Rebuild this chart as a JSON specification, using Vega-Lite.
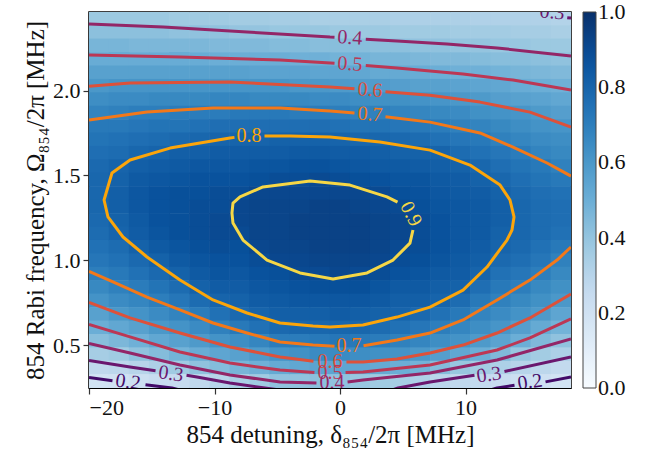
{
"$schema":"https://vega.github.io/schema/vega-lite/v6.json",
"autosize":{"type":"none"},
"width":482,"height":376,
"padding":{"left":89,"top":12,"right":99,"bottom":67},
"background":"white",
"datasets":{
"cells":[
{"x":-19.2,"y":2.423,"v":0.38},{"x":-19.2,"y":2.344,"v":0.42},{"x":-19.2,"y":2.265,"v":0.47},{"x":-19.2,"y":2.185,"v":0.51},{"x":-19.2,"y":2.106,"v":0.56},{"x":-19.2,"y":2.027,"v":0.60},{"x":-19.2,"y":1.948,"v":0.64},{"x":-19.2,"y":1.869,"v":0.68},{"x":-19.2,"y":1.790,"v":0.72},{"x":-19.2,"y":1.711,"v":0.74},{"x":-19.2,"y":1.632,"v":0.76},{"x":-19.2,"y":1.553,"v":0.78},{"x":-19.2,"y":1.474,"v":0.79},{"x":-19.2,"y":1.394,"v":0.79},{"x":-19.2,"y":1.315,"v":0.79},{"x":-19.2,"y":1.236,"v":0.78},{"x":-19.2,"y":1.157,"v":0.77},{"x":-19.2,"y":1.078,"v":0.75},{"x":-19.2,"y":0.999,"v":0.73},{"x":-19.2,"y":0.920,"v":0.70},{"x":-19.2,"y":0.841,"v":0.66},{"x":-19.2,"y":0.762,"v":0.62},{"x":-19.2,"y":0.682,"v":0.56},{"x":-19.2,"y":0.603,"v":0.50},{"x":-19.2,"y":0.524,"v":0.43},{"x":-19.2,"y":0.445,"v":0.35},{"x":-19.2,"y":0.366,"v":0.27},{"x":-19.2,"y":0.287,"v":0.19},
{"x":-17.6,"y":2.423,"v":0.38},{"x":-17.6,"y":2.344,"v":0.42},{"x":-17.6,"y":2.265,"v":0.47},{"x":-17.6,"y":2.185,"v":0.51},{"x":-17.6,"y":2.106,"v":0.56},{"x":-17.6,"y":2.027,"v":0.61},{"x":-17.6,"y":1.948,"v":0.65},{"x":-17.6,"y":1.869,"v":0.69},{"x":-17.6,"y":1.790,"v":0.72},{"x":-17.6,"y":1.711,"v":0.75},{"x":-17.6,"y":1.632,"v":0.77},{"x":-17.6,"y":1.553,"v":0.80},{"x":-17.6,"y":1.474,"v":0.81},{"x":-17.6,"y":1.394,"v":0.82},{"x":-17.6,"y":1.315,"v":0.82},{"x":-17.6,"y":1.236,"v":0.81},{"x":-17.6,"y":1.157,"v":0.80},{"x":-17.6,"y":1.078,"v":0.77},{"x":-17.6,"y":0.999,"v":0.75},{"x":-17.6,"y":0.920,"v":0.72},{"x":-17.6,"y":0.841,"v":0.69},{"x":-17.6,"y":0.762,"v":0.65},{"x":-17.6,"y":0.682,"v":0.60},{"x":-17.6,"y":0.603,"v":0.53},{"x":-17.6,"y":0.524,"v":0.46},{"x":-17.6,"y":0.445,"v":0.37},{"x":-17.6,"y":0.366,"v":0.28},{"x":-17.6,"y":0.287,"v":0.20},
{"x":-16.0,"y":2.423,"v":0.38},{"x":-16.0,"y":2.344,"v":0.42},{"x":-16.0,"y":2.265,"v":0.46},{"x":-16.0,"y":2.185,"v":0.51},{"x":-16.0,"y":2.106,"v":0.56},{"x":-16.0,"y":2.027,"v":0.61},{"x":-16.0,"y":1.948,"v":0.65},{"x":-16.0,"y":1.869,"v":0.70},{"x":-16.0,"y":1.790,"v":0.73},{"x":-16.0,"y":1.711,"v":0.76},{"x":-16.0,"y":1.632,"v":0.79},{"x":-16.0,"y":1.553,"v":0.82},{"x":-16.0,"y":1.474,"v":0.84},{"x":-16.0,"y":1.394,"v":0.85},{"x":-16.0,"y":1.315,"v":0.85},{"x":-16.0,"y":1.236,"v":0.84},{"x":-16.0,"y":1.157,"v":0.83},{"x":-16.0,"y":1.078,"v":0.81},{"x":-16.0,"y":0.999,"v":0.78},{"x":-16.0,"y":0.920,"v":0.75},{"x":-16.0,"y":0.841,"v":0.71},{"x":-16.0,"y":0.762,"v":0.67},{"x":-16.0,"y":0.682,"v":0.62},{"x":-16.0,"y":0.603,"v":0.56},{"x":-16.0,"y":0.524,"v":0.49},{"x":-16.0,"y":0.445,"v":0.41},{"x":-16.0,"y":0.366,"v":0.30},{"x":-16.0,"y":0.287,"v":0.22},
{"x":-14.4,"y":2.423,"v":0.38},{"x":-14.4,"y":2.344,"v":0.42},{"x":-14.4,"y":2.265,"v":0.46},{"x":-14.4,"y":2.185,"v":0.51},{"x":-14.4,"y":2.106,"v":0.56},{"x":-14.4,"y":2.027,"v":0.61},{"x":-14.4,"y":1.948,"v":0.66},{"x":-14.4,"y":1.869,"v":0.70},{"x":-14.4,"y":1.790,"v":0.74},{"x":-14.4,"y":1.711,"v":0.77},{"x":-14.4,"y":1.632,"v":0.80},{"x":-14.4,"y":1.553,"v":0.83},{"x":-14.4,"y":1.474,"v":0.85},{"x":-14.4,"y":1.394,"v":0.87},{"x":-14.4,"y":1.315,"v":0.87},{"x":-14.4,"y":1.236,"v":0.87},{"x":-14.4,"y":1.157,"v":0.86},{"x":-14.4,"y":1.078,"v":0.84},{"x":-14.4,"y":0.999,"v":0.81},{"x":-14.4,"y":0.920,"v":0.78},{"x":-14.4,"y":0.841,"v":0.74},{"x":-14.4,"y":0.762,"v":0.70},{"x":-14.4,"y":0.682,"v":0.65},{"x":-14.4,"y":0.603,"v":0.60},{"x":-14.4,"y":0.524,"v":0.53},{"x":-14.4,"y":0.445,"v":0.44},{"x":-14.4,"y":0.366,"v":0.33},{"x":-14.4,"y":0.287,"v":0.24},
{"x":-12.8,"y":2.423,"v":0.37},{"x":-12.8,"y":2.344,"v":0.41},{"x":-12.8,"y":2.265,"v":0.46},{"x":-12.8,"y":2.185,"v":0.51},{"x":-12.8,"y":2.106,"v":0.56},{"x":-12.8,"y":2.027,"v":0.61},{"x":-12.8,"y":1.948,"v":0.66},{"x":-12.8,"y":1.869,"v":0.71},{"x":-12.8,"y":1.790,"v":0.74},{"x":-12.8,"y":1.711,"v":0.78},{"x":-12.8,"y":1.632,"v":0.82},{"x":-12.8,"y":1.553,"v":0.84},{"x":-12.8,"y":1.474,"v":0.86},{"x":-12.8,"y":1.394,"v":0.88},{"x":-12.8,"y":1.315,"v":0.88},{"x":-12.8,"y":1.236,"v":0.88},{"x":-12.8,"y":1.157,"v":0.88},{"x":-12.8,"y":1.078,"v":0.86},{"x":-12.8,"y":0.999,"v":0.84},{"x":-12.8,"y":0.920,"v":0.81},{"x":-12.8,"y":0.841,"v":0.77},{"x":-12.8,"y":0.762,"v":0.73},{"x":-12.8,"y":0.682,"v":0.68},{"x":-12.8,"y":0.603,"v":0.62},{"x":-12.8,"y":0.524,"v":0.56},{"x":-12.8,"y":0.445,"v":0.48},{"x":-12.8,"y":0.366,"v":0.37},{"x":-12.8,"y":0.287,"v":0.25},
{"x":-11.2,"y":2.423,"v":0.37},{"x":-11.2,"y":2.344,"v":0.41},{"x":-11.2,"y":2.265,"v":0.46},{"x":-11.2,"y":2.185,"v":0.51},{"x":-11.2,"y":2.106,"v":0.56},{"x":-11.2,"y":2.027,"v":0.61},{"x":-11.2,"y":1.948,"v":0.66},{"x":-11.2,"y":1.869,"v":0.71},{"x":-11.2,"y":1.790,"v":0.75},{"x":-11.2,"y":1.711,"v":0.79},{"x":-11.2,"y":1.632,"v":0.82},{"x":-11.2,"y":1.553,"v":0.85},{"x":-11.2,"y":1.474,"v":0.87},{"x":-11.2,"y":1.394,"v":0.88},{"x":-11.2,"y":1.315,"v":0.89},{"x":-11.2,"y":1.236,"v":0.89},{"x":-11.2,"y":1.157,"v":0.89},{"x":-11.2,"y":1.078,"v":0.88},{"x":-11.2,"y":0.999,"v":0.86},{"x":-11.2,"y":0.920,"v":0.84},{"x":-11.2,"y":0.841,"v":0.81},{"x":-11.2,"y":0.762,"v":0.77},{"x":-11.2,"y":0.682,"v":0.71},{"x":-11.2,"y":0.603,"v":0.65},{"x":-11.2,"y":0.524,"v":0.59},{"x":-11.2,"y":0.445,"v":0.51},{"x":-11.2,"y":0.366,"v":0.41},{"x":-11.2,"y":0.287,"v":0.27},
{"x":-9.6,"y":2.423,"v":0.37},{"x":-9.6,"y":2.344,"v":0.41},{"x":-9.6,"y":2.265,"v":0.45},{"x":-9.6,"y":2.185,"v":0.50},{"x":-9.6,"y":2.106,"v":0.56},{"x":-9.6,"y":2.027,"v":0.61},{"x":-9.6,"y":1.948,"v":0.67},{"x":-9.6,"y":1.869,"v":0.71},{"x":-9.6,"y":1.790,"v":0.76},{"x":-9.6,"y":1.711,"v":0.80},{"x":-9.6,"y":1.632,"v":0.83},{"x":-9.6,"y":1.553,"v":0.85},{"x":-9.6,"y":1.474,"v":0.87},{"x":-9.6,"y":1.394,"v":0.89},{"x":-9.6,"y":1.315,"v":0.89},{"x":-9.6,"y":1.236,"v":0.90},{"x":-9.6,"y":1.157,"v":0.90},{"x":-9.6,"y":1.078,"v":0.89},{"x":-9.6,"y":0.999,"v":0.87},{"x":-9.6,"y":0.920,"v":0.86},{"x":-9.6,"y":0.841,"v":0.83},{"x":-9.6,"y":0.762,"v":0.80},{"x":-9.6,"y":0.682,"v":0.75},{"x":-9.6,"y":0.603,"v":0.69},{"x":-9.6,"y":0.524,"v":0.62},{"x":-9.6,"y":0.445,"v":0.54},{"x":-9.6,"y":0.366,"v":0.44},{"x":-9.6,"y":0.287,"v":0.30},
{"x":-8.0,"y":2.423,"v":0.36},{"x":-8.0,"y":2.344,"v":0.40},{"x":-8.0,"y":2.265,"v":0.45},{"x":-8.0,"y":2.185,"v":0.50},{"x":-8.0,"y":2.106,"v":0.56},{"x":-8.0,"y":2.027,"v":0.61},{"x":-8.0,"y":1.948,"v":0.67},{"x":-8.0,"y":1.869,"v":0.72},{"x":-8.0,"y":1.790,"v":0.76},{"x":-8.0,"y":1.711,"v":0.80},{"x":-8.0,"y":1.632,"v":0.83},{"x":-8.0,"y":1.553,"v":0.85},{"x":-8.0,"y":1.474,"v":0.87},{"x":-8.0,"y":1.394,"v":0.89},{"x":-8.0,"y":1.315,"v":0.91},{"x":-8.0,"y":1.236,"v":0.91},{"x":-8.0,"y":1.157,"v":0.90},{"x":-8.0,"y":1.078,"v":0.88},{"x":-8.0,"y":0.999,"v":0.87},{"x":-8.0,"y":0.920,"v":0.85},{"x":-8.0,"y":0.841,"v":0.83},{"x":-8.0,"y":0.762,"v":0.81},{"x":-8.0,"y":0.682,"v":0.78},{"x":-8.0,"y":0.603,"v":0.72},{"x":-8.0,"y":0.524,"v":0.64},{"x":-8.0,"y":0.445,"v":0.56},{"x":-8.0,"y":0.366,"v":0.47},{"x":-8.0,"y":0.287,"v":0.34},
{"x":-6.4,"y":2.423,"v":0.36},{"x":-6.4,"y":2.344,"v":0.40},{"x":-6.4,"y":2.265,"v":0.45},{"x":-6.4,"y":2.185,"v":0.50},{"x":-6.4,"y":2.106,"v":0.55},{"x":-6.4,"y":2.027,"v":0.61},{"x":-6.4,"y":1.948,"v":0.66},{"x":-6.4,"y":1.869,"v":0.72},{"x":-6.4,"y":1.790,"v":0.76},{"x":-6.4,"y":1.711,"v":0.80},{"x":-6.4,"y":1.632,"v":0.83},{"x":-6.4,"y":1.553,"v":0.86},{"x":-6.4,"y":1.474,"v":0.88},{"x":-6.4,"y":1.394,"v":0.91},{"x":-6.4,"y":1.315,"v":0.92},{"x":-6.4,"y":1.236,"v":0.92},{"x":-6.4,"y":1.157,"v":0.92},{"x":-6.4,"y":1.078,"v":0.91},{"x":-6.4,"y":0.999,"v":0.89},{"x":-6.4,"y":0.920,"v":0.87},{"x":-6.4,"y":0.841,"v":0.85},{"x":-6.4,"y":0.762,"v":0.83},{"x":-6.4,"y":0.682,"v":0.80},{"x":-6.4,"y":0.603,"v":0.75},{"x":-6.4,"y":0.524,"v":0.67},{"x":-6.4,"y":0.445,"v":0.59},{"x":-6.4,"y":0.366,"v":0.49},{"x":-6.4,"y":0.287,"v":0.37},
{"x":-4.8,"y":2.423,"v":0.35},{"x":-4.8,"y":2.344,"v":0.39},{"x":-4.8,"y":2.265,"v":0.44},{"x":-4.8,"y":2.185,"v":0.50},{"x":-4.8,"y":2.106,"v":0.55},{"x":-4.8,"y":2.027,"v":0.61},{"x":-4.8,"y":1.948,"v":0.66},{"x":-4.8,"y":1.869,"v":0.72},{"x":-4.8,"y":1.790,"v":0.76},{"x":-4.8,"y":1.711,"v":0.81},{"x":-4.8,"y":1.632,"v":0.83},{"x":-4.8,"y":1.553,"v":0.86},{"x":-4.8,"y":1.474,"v":0.89},{"x":-4.8,"y":1.394,"v":0.91},{"x":-4.8,"y":1.315,"v":0.92},{"x":-4.8,"y":1.236,"v":0.92},{"x":-4.8,"y":1.157,"v":0.92},{"x":-4.8,"y":1.078,"v":0.92},{"x":-4.8,"y":0.999,"v":0.91},{"x":-4.8,"y":0.920,"v":0.88},{"x":-4.8,"y":0.841,"v":0.86},{"x":-4.8,"y":0.762,"v":0.84},{"x":-4.8,"y":0.682,"v":0.82},{"x":-4.8,"y":0.603,"v":0.78},{"x":-4.8,"y":0.524,"v":0.71},{"x":-4.8,"y":0.445,"v":0.62},{"x":-4.8,"y":0.366,"v":0.52},{"x":-4.8,"y":0.287,"v":0.41},
{"x":-3.2,"y":2.423,"v":0.35},{"x":-3.2,"y":2.344,"v":0.39},{"x":-3.2,"y":2.265,"v":0.44},{"x":-3.2,"y":2.185,"v":0.49},{"x":-3.2,"y":2.106,"v":0.55},{"x":-3.2,"y":2.027,"v":0.60},{"x":-3.2,"y":1.948,"v":0.66},{"x":-3.2,"y":1.869,"v":0.71},{"x":-3.2,"y":1.790,"v":0.76},{"x":-3.2,"y":1.711,"v":0.81},{"x":-3.2,"y":1.632,"v":0.84},{"x":-3.2,"y":1.553,"v":0.87},{"x":-3.2,"y":1.474,"v":0.89},{"x":-3.2,"y":1.394,"v":0.91},{"x":-3.2,"y":1.315,"v":0.92},{"x":-3.2,"y":1.236,"v":0.93},{"x":-3.2,"y":1.157,"v":0.93},{"x":-3.2,"y":1.078,"v":0.92},{"x":-3.2,"y":0.999,"v":0.91},{"x":-3.2,"y":0.920,"v":0.90},{"x":-3.2,"y":0.841,"v":0.87},{"x":-3.2,"y":0.762,"v":0.85},{"x":-3.2,"y":0.682,"v":0.82},{"x":-3.2,"y":0.603,"v":0.79},{"x":-3.2,"y":0.524,"v":0.71},{"x":-3.2,"y":0.445,"v":0.63},{"x":-3.2,"y":0.366,"v":0.53},{"x":-3.2,"y":0.287,"v":0.41},
{"x":-1.6,"y":2.423,"v":0.34},{"x":-1.6,"y":2.344,"v":0.39},{"x":-1.6,"y":2.265,"v":0.43},{"x":-1.6,"y":2.185,"v":0.49},{"x":-1.6,"y":2.106,"v":0.54},{"x":-1.6,"y":2.027,"v":0.60},{"x":-1.6,"y":1.948,"v":0.65},{"x":-1.6,"y":1.869,"v":0.71},{"x":-1.6,"y":1.790,"v":0.76},{"x":-1.6,"y":1.711,"v":0.81},{"x":-1.6,"y":1.632,"v":0.84},{"x":-1.6,"y":1.553,"v":0.87},{"x":-1.6,"y":1.474,"v":0.90},{"x":-1.6,"y":1.394,"v":0.91},{"x":-1.6,"y":1.315,"v":0.93},{"x":-1.6,"y":1.236,"v":0.93},{"x":-1.6,"y":1.157,"v":0.93},{"x":-1.6,"y":1.078,"v":0.93},{"x":-1.6,"y":0.999,"v":0.92},{"x":-1.6,"y":0.920,"v":0.90},{"x":-1.6,"y":0.841,"v":0.88},{"x":-1.6,"y":0.762,"v":0.85},{"x":-1.6,"y":0.682,"v":0.82},{"x":-1.6,"y":0.603,"v":0.79},{"x":-1.6,"y":0.524,"v":0.72},{"x":-1.6,"y":0.445,"v":0.65},{"x":-1.6,"y":0.366,"v":0.55},{"x":-1.6,"y":0.287,"v":0.42},
{"x":0.0,"y":2.423,"v":0.34},{"x":0.0,"y":2.344,"v":0.38},{"x":0.0,"y":2.265,"v":0.43},{"x":0.0,"y":2.185,"v":0.48},{"x":0.0,"y":2.106,"v":0.54},{"x":0.0,"y":2.027,"v":0.59},{"x":0.0,"y":1.948,"v":0.65},{"x":0.0,"y":1.869,"v":0.70},{"x":0.0,"y":1.790,"v":0.75},{"x":0.0,"y":1.711,"v":0.80},{"x":0.0,"y":1.632,"v":0.83},{"x":0.0,"y":1.553,"v":0.86},{"x":0.0,"y":1.474,"v":0.89},{"x":0.0,"y":1.394,"v":0.91},{"x":0.0,"y":1.315,"v":0.93},{"x":0.0,"y":1.236,"v":0.93},{"x":0.0,"y":1.157,"v":0.93},{"x":0.0,"y":1.078,"v":0.93},{"x":0.0,"y":0.999,"v":0.92},{"x":0.0,"y":0.920,"v":0.91},{"x":0.0,"y":0.841,"v":0.88},{"x":0.0,"y":0.762,"v":0.85},{"x":0.0,"y":0.682,"v":0.83},{"x":0.0,"y":0.603,"v":0.79},{"x":0.0,"y":0.524,"v":0.73},{"x":0.0,"y":0.445,"v":0.65},{"x":0.0,"y":0.366,"v":0.54},{"x":0.0,"y":0.287,"v":0.41},
{"x":1.6,"y":2.423,"v":0.34},{"x":1.6,"y":2.344,"v":0.38},{"x":1.6,"y":2.265,"v":0.43},{"x":1.6,"y":2.185,"v":0.48},{"x":1.6,"y":2.106,"v":0.53},{"x":1.6,"y":2.027,"v":0.58},{"x":1.6,"y":1.948,"v":0.64},{"x":1.6,"y":1.869,"v":0.69},{"x":1.6,"y":1.790,"v":0.74},{"x":1.6,"y":1.711,"v":0.79},{"x":1.6,"y":1.632,"v":0.83},{"x":1.6,"y":1.553,"v":0.85},{"x":1.6,"y":1.474,"v":0.88},{"x":1.6,"y":1.394,"v":0.91},{"x":1.6,"y":1.315,"v":0.92},{"x":1.6,"y":1.236,"v":0.93},{"x":1.6,"y":1.157,"v":0.93},{"x":1.6,"y":1.078,"v":0.93},{"x":1.6,"y":0.999,"v":0.92},{"x":1.6,"y":0.920,"v":0.90},{"x":1.6,"y":0.841,"v":0.88},{"x":1.6,"y":0.762,"v":0.85},{"x":1.6,"y":0.682,"v":0.82},{"x":1.6,"y":0.603,"v":0.79},{"x":1.6,"y":0.524,"v":0.72},{"x":1.6,"y":0.445,"v":0.64},{"x":1.6,"y":0.366,"v":0.54},{"x":1.6,"y":0.287,"v":0.39},
{"x":3.2,"y":2.423,"v":0.34},{"x":3.2,"y":2.344,"v":0.38},{"x":3.2,"y":2.265,"v":0.42},{"x":3.2,"y":2.185,"v":0.47},{"x":3.2,"y":2.106,"v":0.52},{"x":3.2,"y":2.027,"v":0.58},{"x":3.2,"y":1.948,"v":0.63},{"x":3.2,"y":1.869,"v":0.69},{"x":3.2,"y":1.790,"v":0.74},{"x":3.2,"y":1.711,"v":0.79},{"x":3.2,"y":1.632,"v":0.82},{"x":3.2,"y":1.553,"v":0.84},{"x":3.2,"y":1.474,"v":0.87},{"x":3.2,"y":1.394,"v":0.90},{"x":3.2,"y":1.315,"v":0.91},{"x":3.2,"y":1.236,"v":0.92},{"x":3.2,"y":1.157,"v":0.92},{"x":3.2,"y":1.078,"v":0.92},{"x":3.2,"y":0.999,"v":0.91},{"x":3.2,"y":0.920,"v":0.89},{"x":3.2,"y":0.841,"v":0.86},{"x":3.2,"y":0.762,"v":0.84},{"x":3.2,"y":0.682,"v":0.81},{"x":3.2,"y":0.603,"v":0.77},{"x":3.2,"y":0.524,"v":0.71},{"x":3.2,"y":0.445,"v":0.63},{"x":3.2,"y":0.366,"v":0.52},{"x":3.2,"y":0.287,"v":0.37},
{"x":4.8,"y":2.423,"v":0.33},{"x":4.8,"y":2.344,"v":0.37},{"x":4.8,"y":2.265,"v":0.42},{"x":4.8,"y":2.185,"v":0.47},{"x":4.8,"y":2.106,"v":0.52},{"x":4.8,"y":2.027,"v":0.57},{"x":4.8,"y":1.948,"v":0.63},{"x":4.8,"y":1.869,"v":0.68},{"x":4.8,"y":1.790,"v":0.73},{"x":4.8,"y":1.711,"v":0.78},{"x":4.8,"y":1.632,"v":0.81},{"x":4.8,"y":1.553,"v":0.84},{"x":4.8,"y":1.474,"v":0.86},{"x":4.8,"y":1.394,"v":0.88},{"x":4.8,"y":1.315,"v":0.90},{"x":4.8,"y":1.236,"v":0.91},{"x":4.8,"y":1.157,"v":0.91},{"x":4.8,"y":1.078,"v":0.90},{"x":4.8,"y":0.999,"v":0.89},{"x":4.8,"y":0.920,"v":0.87},{"x":4.8,"y":0.841,"v":0.84},{"x":4.8,"y":0.762,"v":0.82},{"x":4.8,"y":0.682,"v":0.80},{"x":4.8,"y":0.603,"v":0.75},{"x":4.8,"y":0.524,"v":0.69},{"x":4.8,"y":0.445,"v":0.62},{"x":4.8,"y":0.366,"v":0.50},{"x":4.8,"y":0.287,"v":0.35},
{"x":6.4,"y":2.423,"v":0.33},{"x":6.4,"y":2.344,"v":0.37},{"x":6.4,"y":2.265,"v":0.41},{"x":6.4,"y":2.185,"v":0.46},{"x":6.4,"y":2.106,"v":0.51},{"x":6.4,"y":2.027,"v":0.56},{"x":6.4,"y":1.948,"v":0.62},{"x":6.4,"y":1.869,"v":0.67},{"x":6.4,"y":1.790,"v":0.72},{"x":6.4,"y":1.711,"v":0.77},{"x":6.4,"y":1.632,"v":0.81},{"x":6.4,"y":1.553,"v":0.83},{"x":6.4,"y":1.474,"v":0.86},{"x":6.4,"y":1.394,"v":0.87},{"x":6.4,"y":1.315,"v":0.88},{"x":6.4,"y":1.236,"v":0.89},{"x":6.4,"y":1.157,"v":0.89},{"x":6.4,"y":1.078,"v":0.89},{"x":6.4,"y":0.999,"v":0.88},{"x":6.4,"y":0.920,"v":0.86},{"x":6.4,"y":0.841,"v":0.84},{"x":6.4,"y":0.762,"v":0.82},{"x":6.4,"y":0.682,"v":0.78},{"x":6.4,"y":0.603,"v":0.73},{"x":6.4,"y":0.524,"v":0.67},{"x":6.4,"y":0.445,"v":0.60},{"x":6.4,"y":0.366,"v":0.48},{"x":6.4,"y":0.287,"v":0.33},
{"x":8.0,"y":2.423,"v":0.33},{"x":8.0,"y":2.344,"v":0.37},{"x":8.0,"y":2.265,"v":0.41},{"x":8.0,"y":2.185,"v":0.45},{"x":8.0,"y":2.106,"v":0.50},{"x":8.0,"y":2.027,"v":0.56},{"x":8.0,"y":1.948,"v":0.61},{"x":8.0,"y":1.869,"v":0.66},{"x":8.0,"y":1.790,"v":0.71},{"x":8.0,"y":1.711,"v":0.75},{"x":8.0,"y":1.632,"v":0.80},{"x":8.0,"y":1.553,"v":0.82},{"x":8.0,"y":1.474,"v":0.84},{"x":8.0,"y":1.394,"v":0.85},{"x":8.0,"y":1.315,"v":0.86},{"x":8.0,"y":1.236,"v":0.87},{"x":8.0,"y":1.157,"v":0.87},{"x":8.0,"y":1.078,"v":0.87},{"x":8.0,"y":0.999,"v":0.86},{"x":8.0,"y":0.920,"v":0.84},{"x":8.0,"y":0.841,"v":0.82},{"x":8.0,"y":0.762,"v":0.80},{"x":8.0,"y":0.682,"v":0.75},{"x":8.0,"y":0.603,"v":0.70},{"x":8.0,"y":0.524,"v":0.64},{"x":8.0,"y":0.445,"v":0.57},{"x":8.0,"y":0.366,"v":0.44},{"x":8.0,"y":0.287,"v":0.29},
{"x":9.6,"y":2.423,"v":0.33},{"x":9.6,"y":2.344,"v":0.36},{"x":9.6,"y":2.265,"v":0.40},{"x":9.6,"y":2.185,"v":0.45},{"x":9.6,"y":2.106,"v":0.49},{"x":9.6,"y":2.027,"v":0.55},{"x":9.6,"y":1.948,"v":0.60},{"x":9.6,"y":1.869,"v":0.65},{"x":9.6,"y":1.790,"v":0.69},{"x":9.6,"y":1.711,"v":0.73},{"x":9.6,"y":1.632,"v":0.77},{"x":9.6,"y":1.553,"v":0.81},{"x":9.6,"y":1.474,"v":0.83},{"x":9.6,"y":1.394,"v":0.84},{"x":9.6,"y":1.315,"v":0.85},{"x":9.6,"y":1.236,"v":0.85},{"x":9.6,"y":1.157,"v":0.85},{"x":9.6,"y":1.078,"v":0.85},{"x":9.6,"y":0.999,"v":0.84},{"x":9.6,"y":0.920,"v":0.83},{"x":9.6,"y":0.841,"v":0.81},{"x":9.6,"y":0.762,"v":0.77},{"x":9.6,"y":0.682,"v":0.72},{"x":9.6,"y":0.603,"v":0.67},{"x":9.6,"y":0.524,"v":0.62},{"x":9.6,"y":0.445,"v":0.53},{"x":9.6,"y":0.366,"v":0.39},{"x":9.6,"y":0.287,"v":0.27},
{"x":11.2,"y":2.423,"v":0.32},{"x":11.2,"y":2.344,"v":0.36},{"x":11.2,"y":2.265,"v":0.40},{"x":11.2,"y":2.185,"v":0.44},{"x":11.2,"y":2.106,"v":0.49},{"x":11.2,"y":2.027,"v":0.54},{"x":11.2,"y":1.948,"v":0.59},{"x":11.2,"y":1.869,"v":0.63},{"x":11.2,"y":1.790,"v":0.68},{"x":11.2,"y":1.711,"v":0.72},{"x":11.2,"y":1.632,"v":0.75},{"x":11.2,"y":1.553,"v":0.79},{"x":11.2,"y":1.474,"v":0.81},{"x":11.2,"y":1.394,"v":0.83},{"x":11.2,"y":1.315,"v":0.84},{"x":11.2,"y":1.236,"v":0.84},{"x":11.2,"y":1.157,"v":0.84},{"x":11.2,"y":1.078,"v":0.83},{"x":11.2,"y":0.999,"v":0.82},{"x":11.2,"y":0.920,"v":0.80},{"x":11.2,"y":0.841,"v":0.76},{"x":11.2,"y":0.762,"v":0.72},{"x":11.2,"y":0.682,"v":0.68},{"x":11.2,"y":0.603,"v":0.64},{"x":11.2,"y":0.524,"v":0.59},{"x":11.2,"y":0.445,"v":0.50},{"x":11.2,"y":0.366,"v":0.36},{"x":11.2,"y":0.287,"v":0.26},
{"x":12.8,"y":2.423,"v":0.32},{"x":12.8,"y":2.344,"v":0.36},{"x":12.8,"y":2.265,"v":0.39},{"x":12.8,"y":2.185,"v":0.43},{"x":12.8,"y":2.106,"v":0.48},{"x":12.8,"y":2.027,"v":0.53},{"x":12.8,"y":1.948,"v":0.57},{"x":12.8,"y":1.869,"v":0.62},{"x":12.8,"y":1.790,"v":0.66},{"x":12.8,"y":1.711,"v":0.69},{"x":12.8,"y":1.632,"v":0.73},{"x":12.8,"y":1.553,"v":0.76},{"x":12.8,"y":1.474,"v":0.79},{"x":12.8,"y":1.394,"v":0.81},{"x":12.8,"y":1.315,"v":0.82},{"x":12.8,"y":1.236,"v":0.82},{"x":12.8,"y":1.157,"v":0.81},{"x":12.8,"y":1.078,"v":0.80},{"x":12.8,"y":0.999,"v":0.78},{"x":12.8,"y":0.920,"v":0.75},{"x":12.8,"y":0.841,"v":0.72},{"x":12.8,"y":0.762,"v":0.69},{"x":12.8,"y":0.682,"v":0.65},{"x":12.8,"y":0.603,"v":0.61},{"x":12.8,"y":0.524,"v":0.55},{"x":12.8,"y":0.445,"v":0.45},{"x":12.8,"y":0.366,"v":0.33},{"x":12.8,"y":0.287,"v":0.24},
{"x":14.4,"y":2.423,"v":0.32},{"x":14.4,"y":2.344,"v":0.35},{"x":14.4,"y":2.265,"v":0.39},{"x":14.4,"y":2.185,"v":0.43},{"x":14.4,"y":2.106,"v":0.47},{"x":14.4,"y":2.027,"v":0.51},{"x":14.4,"y":1.948,"v":0.56},{"x":14.4,"y":1.869,"v":0.61},{"x":14.4,"y":1.790,"v":0.64},{"x":14.4,"y":1.711,"v":0.67},{"x":14.4,"y":1.632,"v":0.71},{"x":14.4,"y":1.553,"v":0.74},{"x":14.4,"y":1.474,"v":0.76},{"x":14.4,"y":1.394,"v":0.78},{"x":14.4,"y":1.315,"v":0.79},{"x":14.4,"y":1.236,"v":0.79},{"x":14.4,"y":1.157,"v":0.79},{"x":14.4,"y":1.078,"v":0.78},{"x":14.4,"y":0.999,"v":0.76},{"x":14.4,"y":0.920,"v":0.73},{"x":14.4,"y":0.841,"v":0.70},{"x":14.4,"y":0.762,"v":0.66},{"x":14.4,"y":0.682,"v":0.62},{"x":14.4,"y":0.603,"v":0.57},{"x":14.4,"y":0.524,"v":0.50},{"x":14.4,"y":0.445,"v":0.39},{"x":14.4,"y":0.366,"v":0.30},{"x":14.4,"y":0.287,"v":0.22},
{"x":16.0,"y":2.423,"v":0.32},{"x":16.0,"y":2.344,"v":0.35},{"x":16.0,"y":2.265,"v":0.38},{"x":16.0,"y":2.185,"v":0.42},{"x":16.0,"y":2.106,"v":0.46},{"x":16.0,"y":2.027,"v":0.50},{"x":16.0,"y":1.948,"v":0.55},{"x":16.0,"y":1.869,"v":0.59},{"x":16.0,"y":1.790,"v":0.62},{"x":16.0,"y":1.711,"v":0.65},{"x":16.0,"y":1.632,"v":0.68},{"x":16.0,"y":1.553,"v":0.72},{"x":16.0,"y":1.474,"v":0.74},{"x":16.0,"y":1.394,"v":0.76},{"x":16.0,"y":1.315,"v":0.77},{"x":16.0,"y":1.236,"v":0.77},{"x":16.0,"y":1.157,"v":0.77},{"x":16.0,"y":1.078,"v":0.75},{"x":16.0,"y":0.999,"v":0.73},{"x":16.0,"y":0.920,"v":0.70},{"x":16.0,"y":0.841,"v":0.66},{"x":16.0,"y":0.762,"v":0.63},{"x":16.0,"y":0.682,"v":0.59},{"x":16.0,"y":0.603,"v":0.52},{"x":16.0,"y":0.524,"v":0.45},{"x":16.0,"y":0.445,"v":0.36},{"x":16.0,"y":0.366,"v":0.28},{"x":16.0,"y":0.287,"v":0.21},
{"x":17.6,"y":2.423,"v":0.31},{"x":17.6,"y":2.344,"v":0.34},{"x":17.6,"y":2.265,"v":0.38},{"x":17.6,"y":2.185,"v":0.41},{"x":17.6,"y":2.106,"v":0.45},{"x":17.6,"y":2.027,"v":0.49},{"x":17.6,"y":1.948,"v":0.53},{"x":17.6,"y":1.869,"v":0.57},{"x":17.6,"y":1.790,"v":0.61},{"x":17.6,"y":1.711,"v":0.64},{"x":17.6,"y":1.632,"v":0.66},{"x":17.6,"y":1.553,"v":0.69},{"x":17.6,"y":1.474,"v":0.72},{"x":17.6,"y":1.394,"v":0.75},{"x":17.6,"y":1.315,"v":0.76},{"x":17.6,"y":1.236,"v":0.76},{"x":17.6,"y":1.157,"v":0.75},{"x":17.6,"y":1.078,"v":0.72},{"x":17.6,"y":0.999,"v":0.69},{"x":17.6,"y":0.920,"v":0.66},{"x":17.6,"y":0.841,"v":0.63},{"x":17.6,"y":0.762,"v":0.60},{"x":17.6,"y":0.682,"v":0.54},{"x":17.6,"y":0.603,"v":0.48},{"x":17.6,"y":0.524,"v":0.41},{"x":17.6,"y":0.445,"v":0.33},{"x":17.6,"y":0.366,"v":0.26},{"x":17.6,"y":0.287,"v":0.19}
],
"contours":[
{"lv":0.4,"s":"4ua","o":0,"x":-20.0,"y":2.392},{"lv":0.4,"s":"4ua","o":1,"x":-14.10,"y":2.374},{"lv":0.4,"s":"4ua","o":2,"x":-7.41,"y":2.345},{"lv":0.4,"s":"4ua","o":3,"x":-0.80,"y":2.315},{"lv":0.4,"s":"4ua","o":4,"x":-0.44,"y":2.314},
{"lv":0.4,"s":"4ub","o":0,"x":2.05,"y":2.302},{"lv":0.4,"s":"4ub","o":1,"x":4.54,"y":2.292},{"lv":0.4,"s":"4ub","o":2,"x":8.52,"y":2.274},{"lv":0.4,"s":"4ub","o":3,"x":12.51,"y":2.251},{"lv":0.4,"s":"4ub","o":4,"x":18.40,"y":2.204},
{"lv":0.5,"s":"5ua","o":0,"x":-20.0,"y":2.209},{"lv":0.5,"s":"5ua","o":1,"x":-12.75,"y":2.198},{"lv":0.5,"s":"5ua","o":2,"x":-4.78,"y":2.180},{"lv":0.5,"s":"5ua","o":3,"x":-0.44,"y":2.161},
{"lv":0.5,"s":"5ub","o":0,"x":2.05,"y":2.148},{"lv":0.5,"s":"5ub","o":1,"x":4.54,"y":2.133},{"lv":0.5,"s":"5ub","o":2,"x":9.80,"y":2.097},{"lv":0.5,"s":"5ub","o":3,"x":13.78,"y":2.062},{"lv":0.5,"s":"5ub","o":4,"x":18.40,"y":2.003},
{"lv":0.6,"s":"6ua","o":0,"x":-20.0,"y":2.026},{"lv":0.6,"s":"6ua","o":1,"x":-16.73,"y":2.044},{"lv":0.6,"s":"6ua","o":2,"x":-8.77,"y":2.050},{"lv":0.6,"s":"6ua","o":3,"x":-0.80,"y":2.021},{"lv":0.6,"s":"6ua","o":4,"x":1.15,"y":2.010},
{"lv":0.6,"s":"6ub","o":0,"x":3.62,"y":1.993},{"lv":0.6,"s":"6ub","o":1,"x":7.17,"y":1.973},{"lv":0.6,"s":"6ub","o":2,"x":11.15,"y":1.932},{"lv":0.6,"s":"6ub","o":3,"x":15.13,"y":1.873},{"lv":0.6,"s":"6ub","o":4,"x":18.40,"y":1.785},
{"lv":0.7,"s":"7ua","o":0,"x":-20.0,"y":1.826},{"lv":0.7,"s":"7ua","o":1,"x":-15.38,"y":1.873},{"lv":0.7,"s":"7ua","o":2,"x":-10.12,"y":1.897},{"lv":0.7,"s":"7ua","o":3,"x":-4.78,"y":1.897},{"lv":0.7,"s":"7ua","o":4,"x":-0.80,"y":1.879},{"lv":0.7,"s":"7ua","o":5,"x":1.15,"y":1.868},
{"lv":0.7,"s":"7ub","o":0,"x":3.62,"y":1.846},{"lv":0.7,"s":"7ub","o":1,"x":7.17,"y":1.814},{"lv":0.7,"s":"7ub","o":2,"x":11.15,"y":1.750},{"lv":0.7,"s":"7ub","o":3,"x":13.78,"y":1.667},{"lv":0.7,"s":"7ub","o":4,"x":16.49,"y":1.573},{"lv":0.7,"s":"7ub","o":5,"x":18.40,"y":1.496},
{"lv":0.8,"s":"8","o":0,"x":-6.02,"y":1.732},{"lv":0.8,"s":"8","o":1,"x":-3.99,"y":1.732},{"lv":0.8,"s":"8","o":2,"x":-0.80,"y":1.726},{"lv":0.8,"s":"8","o":3,"x":3.18,"y":1.697},{"lv":0.8,"s":"8","o":4,"x":7.17,"y":1.649},{"lv":0.8,"s":"8","o":5,"x":10.35,"y":1.561},{"lv":0.8,"s":"8","o":6,"x":12.75,"y":1.443},{"lv":0.8,"s":"8","o":7,"x":13.54,"y":1.355},{"lv":0.8,"s":"8","o":8,"x":13.86,"y":1.255},{"lv":0.8,"s":"8","o":9,"x":13.70,"y":1.178},{"lv":0.8,"s":"8","o":10,"x":13.30,"y":1.119},{"lv":0.8,"s":"8","o":11,"x":11.71,"y":0.960},{"lv":0.8,"s":"8","o":12,"x":9.80,"y":0.824},{"lv":0.8,"s":"8","o":13,"x":7.17,"y":0.724},{"lv":0.8,"s":"8","o":14,"x":4.54,"y":0.665},{"lv":0.8,"s":"8","o":15,"x":1.83,"y":0.618},{"lv":0.8,"s":"8","o":16,"x":-0.80,"y":0.606},{"lv":0.8,"s":"8","o":17,"x":-2.15,"y":0.612},{"lv":0.8,"s":"8","o":18,"x":-4.78,"y":0.630},{"lv":0.8,"s":"8","o":19,"x":-7.41,"y":0.689},{"lv":0.8,"s":"8","o":20,"x":-10.12,"y":0.766},{"lv":0.8,"s":"8","o":21,"x":-12.75,"y":0.883},{"lv":0.8,"s":"8","o":22,"x":-15.38,"y":1.019},{"lv":0.8,"s":"8","o":23,"x":-17.29,"y":1.137},{"lv":0.8,"s":"8","o":24,"x":-18.49,"y":1.255},{"lv":0.8,"s":"8","o":25,"x":-18.80,"y":1.355},{"lv":0.8,"s":"8","o":26,"x":-18.17,"y":1.514},{"lv":0.8,"s":"8","o":27,"x":-16.73,"y":1.591},{"lv":0.8,"s":"8","o":28,"x":-13.55,"y":1.661},{"lv":0.8,"s":"8","o":29,"x":-8.77,"y":1.720},{"lv":0.8,"s":"8","o":30,"x":-8.41,"y":1.724},
{"lv":0.9,"s":"9","o":0,"x":5.81,"y":1.178},{"lv":0.9,"s":"9","o":1,"x":5.57,"y":1.101},{"lv":0.9,"s":"9","o":2,"x":4.22,"y":1.001},{"lv":0.9,"s":"9","o":3,"x":2.15,"y":0.925},{"lv":0.9,"s":"9","o":4,"x":-0.56,"y":0.889},{"lv":0.9,"s":"9","o":5,"x":-3.19,"y":0.925},{"lv":0.9,"s":"9","o":6,"x":-5.82,"y":1.001},{"lv":0.9,"s":"9","o":7,"x":-7.73,"y":1.119},{"lv":0.9,"s":"9","o":8,"x":-8.53,"y":1.219},{"lv":0.9,"s":"9","o":9,"x":-8.61,"y":1.278},{"lv":0.9,"s":"9","o":10,"x":-8.53,"y":1.337},{"lv":0.9,"s":"9","o":11,"x":-7.97,"y":1.373},{"lv":0.9,"s":"9","o":12,"x":-6.14,"y":1.432},{"lv":0.9,"s":"9","o":13,"x":-2.39,"y":1.467},{"lv":0.9,"s":"9","o":14,"x":0.79,"y":1.443},{"lv":0.9,"s":"9","o":15,"x":3.74,"y":1.373},{"lv":0.9,"s":"9","o":16,"x":4.58,"y":1.343},
{"lv":0.7,"s":"7la","o":0,"x":-20.0,"y":0.934},{"lv":0.7,"s":"7la","o":1,"x":-18.09,"y":0.872},{"lv":0.7,"s":"7la","o":2,"x":-15.38,"y":0.783},{"lv":0.7,"s":"7la","o":3,"x":-12.75,"y":0.707},{"lv":0.7,"s":"7la","o":4,"x":-10.12,"y":0.630},{"lv":0.7,"s":"7la","o":5,"x":-7.41,"y":0.571},{"lv":0.7,"s":"7la","o":6,"x":-4.78,"y":0.518},{"lv":0.7,"s":"7la","o":7,"x":-2.15,"y":0.500},{"lv":0.7,"s":"7la","o":8,"x":-0.44,"y":0.493},
{"lv":0.7,"s":"7lb","o":0,"x":1.87,"y":0.496},{"lv":0.7,"s":"7lb","o":1,"x":4.54,"y":0.530},{"lv":0.7,"s":"7lb","o":2,"x":7.17,"y":0.571},{"lv":0.7,"s":"7lb","o":3,"x":9.80,"y":0.648},{"lv":0.7,"s":"7lb","o":4,"x":12.51,"y":0.766},{"lv":0.7,"s":"7lb","o":5,"x":15.13,"y":0.883},{"lv":0.7,"s":"7lb","o":6,"x":17.29,"y":1.001},{"lv":0.7,"s":"7lb","o":7,"x":18.40,"y":1.078},
{"lv":0.6,"s":"6la","o":0,"x":-20.0,"y":0.751},{"lv":0.6,"s":"6la","o":1,"x":-16.73,"y":0.660},{"lv":0.6,"s":"6la","o":2,"x":-12.75,"y":0.571},{"lv":0.6,"s":"6la","o":3,"x":-8.77,"y":0.489},{"lv":0.6,"s":"6la","o":4,"x":-4.78,"y":0.430},{"lv":0.6,"s":"6la","o":5,"x":-2.12,"y":0.404},
{"lv":0.6,"s":"6lb","o":0,"x":0.51,"y":0.400},{"lv":0.6,"s":"6lb","o":1,"x":1.83,"y":0.400},{"lv":0.6,"s":"6lb","o":2,"x":4.54,"y":0.418},{"lv":0.6,"s":"6lb","o":3,"x":7.17,"y":0.453},{"lv":0.6,"s":"6lb","o":4,"x":9.80,"y":0.500},{"lv":0.6,"s":"6lb","o":5,"x":12.51,"y":0.571},{"lv":0.6,"s":"6lb","o":6,"x":15.13,"y":0.660},{"lv":0.6,"s":"6lb","o":7,"x":18.40,"y":0.801},
{"lv":0.5,"s":"5la","o":0,"x":-20.0,"y":0.621},{"lv":0.5,"s":"5la","o":1,"x":-16.73,"y":0.548},{"lv":0.5,"s":"5la","o":2,"x":-12.75,"y":0.459},{"lv":0.5,"s":"5la","o":3,"x":-8.77,"y":0.394},{"lv":0.5,"s":"5la","o":4,"x":-4.78,"y":0.353},{"lv":0.5,"s":"5la","o":5,"x":-2.04,"y":0.339},
{"lv":0.5,"s":"5lb","o":0,"x":0.44,"y":0.338},{"lv":0.5,"s":"5lb","o":1,"x":1.83,"y":0.341},{"lv":0.5,"s":"5lb","o":2,"x":7.17,"y":0.383},{"lv":0.5,"s":"5lb","o":3,"x":12.51,"y":0.471},{"lv":0.5,"s":"5lb","o":4,"x":15.13,"y":0.542},{"lv":0.5,"s":"5lb","o":5,"x":18.40,"y":0.654},
{"lv":0.4,"s":"4la","o":0,"x":-20.0,"y":0.509},{"lv":0.4,"s":"4la","o":1,"x":-16.73,"y":0.453},{"lv":0.4,"s":"4la","o":2,"x":-12.75,"y":0.383},{"lv":0.4,"s":"4la","o":3,"x":-8.77,"y":0.324},{"lv":0.4,"s":"4la","o":4,"x":-4.78,"y":0.282},{"lv":0.4,"s":"4la","o":5,"x":-1.88,"y":0.276},
{"lv":0.4,"s":"4lb","o":0,"x":0.60,"y":0.283},{"lv":0.4,"s":"4lb","o":1,"x":1.83,"y":0.294},{"lv":0.4,"s":"4lb","o":2,"x":7.17,"y":0.335},{"lv":0.4,"s":"4lb","o":3,"x":12.51,"y":0.412},{"lv":0.4,"s":"4lb","o":4,"x":18.40,"y":0.536},
{"lv":0.3,"s":"3la","o":0,"x":-20.0,"y":0.409},{"lv":0.3,"s":"3la","o":1,"x":-16.73,"y":0.371},{"lv":0.3,"s":"3la","o":2,"x":-14.70,"y":0.349},
{"lv":0.3,"s":"3lb","o":0,"x":-12.23,"y":0.322},{"lv":0.3,"s":"3lb","o":1,"x":-11.40,"y":0.312},{"lv":0.3,"s":"3lb","o":2,"x":-8.77,"y":0.276},{"lv":0.3,"s":"3lb","o":3,"x":-4.78,"y":0.235},
{"lv":0.3,"s":"3lc","o":0,"x":4.14,"y":0.235},{"lv":0.3,"s":"3lc","o":1,"x":4.62,"y":0.247},{"lv":0.3,"s":"3lc","o":2,"x":7.17,"y":0.282},{"lv":0.3,"s":"3lc","o":3,"x":10.71,"y":0.322},
{"lv":0.3,"s":"3ld","o":0,"x":13.10,"y":0.344},{"lv":0.3,"s":"3ld","o":1,"x":18.40,"y":0.430},
{"lv":0.3,"s":"3u","o":0,"x":18.10,"y":2.429},{"lv":0.3,"s":"3u","o":1,"x":18.40,"y":2.427},
{"lv":0.2,"s":"2la","o":0,"x":-20.0,"y":0.309},{"lv":0.2,"s":"2la","o":1,"x":-18.13,"y":0.290},
{"lv":0.2,"s":"2lb","o":0,"x":-15.50,"y":0.266},{"lv":0.2,"s":"2lb","o":1,"x":-13.39,"y":0.247},{"lv":0.2,"s":"2lb","o":2,"x":-12.75,"y":0.235},
{"lv":0.2,"s":"2lc","o":0,"x":11.95,"y":0.235},{"lv":0.2,"s":"2lc","o":1,"x":12.51,"y":0.247},{"lv":0.2,"s":"2lc","o":2,"x":13.90,"y":0.263},
{"lv":0.2,"s":"2ld","o":0,"x":16.37,"y":0.283},{"lv":0.2,"s":"2ld","o":1,"x":18.40,"y":0.312}
],
"labels":[
{"lv":0.3,"x":16.89,"y":2.460},
{"lv":0.4,"x":0.79,"y":2.310},
{"lv":0.5,"x":0.79,"y":2.156},
{"lv":0.6,"x":2.39,"y":2.003},
{"lv":0.7,"x":2.39,"y":1.859},
{"lv":0.8,"x":-7.25,"y":1.732},
{"lv":0.9,"x":5.65,"y":1.272},
{"lv":0.7,"x":0.71,"y":0.495},
{"lv":0.6,"x":-0.80,"y":0.400},
{"lv":0.5,"x":-0.80,"y":0.338},
{"lv":0.4,"x":-0.64,"y":0.276},
{"lv":0.3,"x":-13.47,"y":0.330},
{"lv":0.3,"x":11.87,"y":0.324},
{"lv":0.2,"x":-16.89,"y":0.282},
{"lv":0.2,"x":15.13,"y":0.282}
]
},
"layer":[
{
"data":{"name":"cells"},
"mark":{"type":"rect","width":20.7,"height":14.1,"clip":true},
"encoding":{
"x":{"field":"x","type":"quantitative","scale":{"domain":[-20,18.4],"nice":false,"zero":false},
 "axis":{"values":[-20,-10,0,10],"format":"d","title":"854 detuning, δ₈₅₄/2π [MHz]"}},
"y":{"field":"y","type":"quantitative","scale":{"domain":[0.247,2.463],"nice":false,"zero":false},
 "axis":{"values":[0.5,1.0,1.5,2.0],"format":".1f","title":"854 Rabi frequency, Ω₈₅₄/2π  [MHz]"}},
"color":{"field":"v","type":"quantitative",
 "scale":{"domain":[0,0.125,0.25,0.375,0.5,0.625,0.75,0.875,1],"range":["#f7fbff","#deebf7","#c6dbef","#9ecae1","#6baed6","#4292c6","#2171b5","#08519c","#08306b"]},
 "legend":{"title":null,"values":[0,0.2,0.4,0.6,0.8,1.0],"format":".1f","gradientLength":376,"gradientThickness":13,"offset":12,"padding":0,"labelOverlap":false,
   "encode":{"labels":{"update":{"baseline":{"value":"middle"}}}}}}
}
},
{
"data":{"name":"contours"},
"mark":{"type":"line","strokeWidth":3,"clip":true,"strokeJoin":"round"},
"encoding":{
"x":{"field":"x","type":"quantitative"},
"y":{"field":"y","type":"quantitative"},
"detail":{"field":"s"},
"order":{"field":"o","type":"quantitative"},
"color":{"field":"lv","type":"ordinal","scale":{"domain":[0.2,0.3,0.4,0.5,0.6,0.7,0.8,0.9],"range":["#420a68","#6a176e","#932667","#bc3754","#dd513a","#f37819","#fca50a","#f6d746"]},"legend":null}
}
},
{
"data":{"name":"labels"},
"transform":[{"filter":"datum.lv == 0.9"}],
"mark":{"type":"text","angle":62,"font":"Liberation Serif","fontSize":20,"clip":true},
"encoding":{"x":{"field":"x","type":"quantitative"},"y":{"field":"y","type":"quantitative"},"text":{"field":"lv","type":"quantitative","format":".1f"},
"color":{"field":"lv","type":"ordinal","scale":{"domain":[0.2,0.3,0.4,0.5,0.6,0.7,0.8,0.9],"range":["#420a68","#6a176e","#932667","#bc3754","#dd513a","#f37819","#fca50a","#f6d746"]},"legend":null}}
},
{
"data":{"name":"labels"},
"transform":[{"filter":"datum.lv < 0.9 && datum.y > 1.8"}],
"mark":{"type":"text","angle":4,"font":"Liberation Serif","fontSize":20,"clip":true},
"encoding":{"x":{"field":"x","type":"quantitative"},"y":{"field":"y","type":"quantitative"},"text":{"field":"lv","type":"quantitative","format":".1f"},
"color":{"field":"lv","type":"ordinal","scale":{"domain":[0.2,0.3,0.4,0.5,0.6,0.7,0.8,0.9],"range":["#420a68","#6a176e","#932667","#bc3754","#dd513a","#f37819","#fca50a","#f6d746"]},"legend":null}}
},
{
"data":{"name":"labels"},
"transform":[{"filter":"datum.y < 1.8 && datum.lv >= 0.4 && datum.lv < 0.9"}],
"mark":{"type":"text","angle":0,"font":"Liberation Serif","fontSize":20,"clip":true},
"encoding":{"x":{"field":"x","type":"quantitative"},"y":{"field":"y","type":"quantitative"},"text":{"field":"lv","type":"quantitative","format":".1f"},
"color":{"field":"lv","type":"ordinal","scale":{"domain":[0.2,0.3,0.4,0.5,0.6,0.7,0.8,0.9],"range":["#420a68","#6a176e","#932667","#bc3754","#dd513a","#f37819","#fca50a","#f6d746"]},"legend":null}}
},
{
"data":{"name":"labels"},
"transform":[{"filter":"datum.y < 1.8 && datum.lv <= 0.3 && datum.x < 0"}],
"mark":{"type":"text","angle":8,"font":"Liberation Serif","fontSize":20,"clip":true},
"encoding":{"x":{"field":"x","type":"quantitative"},"y":{"field":"y","type":"quantitative"},"text":{"field":"lv","type":"quantitative","format":".1f"},
"color":{"field":"lv","type":"ordinal","scale":{"domain":[0.2,0.3,0.4,0.5,0.6,0.7,0.8,0.9],"range":["#420a68","#6a176e","#932667","#bc3754","#dd513a","#f37819","#fca50a","#f6d746"]},"legend":null}}
},
{
"data":{"name":"labels"},
"transform":[{"filter":"datum.y < 1.8 && datum.lv <= 0.3 && datum.x > 0"}],
"mark":{"type":"text","angle":-8,"font":"Liberation Serif","fontSize":20,"clip":true},
"encoding":{"x":{"field":"x","type":"quantitative"},"y":{"field":"y","type":"quantitative"},"text":{"field":"lv","type":"quantitative","format":".1f"},
"color":{"field":"lv","type":"ordinal","scale":{"domain":[0.2,0.3,0.4,0.5,0.6,0.7,0.8,0.9],"range":["#420a68","#6a176e","#932667","#bc3754","#dd513a","#f37819","#fca50a","#f6d746"]},"legend":null}}
}
],
"resolve":{"scale":{"color":"independent"}},
"config":{
"font":"Liberation Serif",
"view":{"stroke":"#000000","strokeWidth":1.5},
"axis":{"grid":false,"domainColor":"#000000","domainWidth":1.2,"tickColor":"#333333","tickSize":6,"tickWidth":1.2,"labelFont":"Liberation Serif","labelFontSize":22,"labelColor":"#111111","labelPadding":3,"titleFont":"Liberation Serif","titleFontSize":25,"titleFontWeight":"normal","titleColor":"#111111","titlePadding":4,"zindex":1},
"legend":{"labelFont":"Liberation Serif","labelFontSize":22,"labelColor":"#111111","labelOffset":10,"gradientStrokeColor":"#444444","gradientStrokeWidth":1}
}
}
